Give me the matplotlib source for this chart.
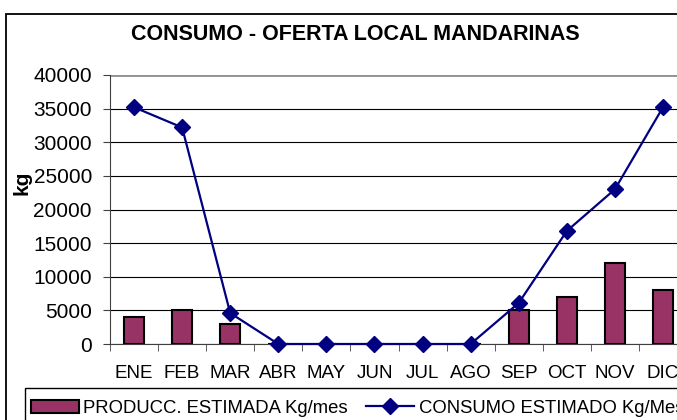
import matplotlib.pyplot as plt
from matplotlib.patches import Rectangle

MONTHS = ["ENE", "FEB", "MAR", "ABR", "MAY", "JUN", "JUL", "AGO", "SEP", "OCT", "NOV", "DIC"]
PRODUCCION = [4000, 5000, 3000, 0, 0, 0, 0, 0, 5000, 7000, 12000, 8000]
CONSUMO = [35200, 32200, 4600, 0, 0, 0, 0, 0, 6100, 16800, 23000, 35200]
Y_TICKS = [0, 5000, 10000, 15000, 20000, 25000, 30000, 35000, 40000]

BAR_COLOR = "#993366"
LINE_COLOR = "#000080"


def main():
    plt.rcParams["font.family"] = ["Liberation Sans", "DejaVu Sans"]
    W, H = 677, 420
    fig = plt.figure(figsize=(W / 100, H / 100), dpi=100)

    # chart area border (cut off on the right and bottom like the original)
    fig.patches.append(Rectangle((6 / W, -0.1), 1.2, 1 - 14 / H + 0.1,
                                 transform=fig.transFigure, fill=False,
                                 edgecolor="black", linewidth=1.3))
    # legend box, also cut off
    fig.patches.append(Rectangle((25 / W, -0.1), 1.2, 1 - 388 / H + 0.1,
                                 transform=fig.transFigure, fill=False,
                                 edgecolor="black", linewidth=1.0))

    ax = fig.add_axes([110 / W, 76 / H, 577 / W, 269 / H])
    x = list(range(len(MONTHS)))
    bars = ax.bar(x, PRODUCCION, width=0.42, color=BAR_COLOR, edgecolor="black",
                  linewidth=1.5, label="PRODUCC. ESTIMADA Kg/mes", zorder=3)
    line, = ax.plot(x, CONSUMO, color=LINE_COLOR, linewidth=1.6, marker="D",
                    markersize=8.5, label="CONSUMO ESTIMADO Kg/Mes", zorder=4,
                    clip_on=False)

    ax.set_xlim(-0.5, 11.5)
    ax.set_ylim(0, 40000)
    ax.set_yticks(Y_TICKS)
    ax.set_yticklabels([str(v) for v in Y_TICKS], fontsize=15)
    ax.set_xticks(x)
    ax.set_xticklabels(MONTHS, fontsize=13.5)
    ax.set_xticks([i - 0.5 for i in range(13)], minor=True)
    ax.tick_params(axis="x", which="major", length=0, pad=15)
    ax.tick_params(axis="x", which="minor", length=5, direction="out",
                   color="#404040")
    ax.tick_params(axis="y", length=5, direction="out", color="#404040", pad=8)
    ax.yaxis.grid(True, color="black", linewidth=0.8, zorder=0)
    ax.set_axisbelow(True)
    for side in ("top", "right"):
        ax.spines[side].set_visible(False)
    ax.spines["left"].set_color("#404040")
    ax.spines["bottom"].set_color("#404040")
    ax.axhline(40000, color="#909090", linewidth=2, zorder=1)

    ax.set_ylabel("kg", fontsize=15, fontweight="bold")
    ax.yaxis.set_label_coords((31 - 110) / 577, 0.60)

    fig.text(355 / W, 1 - 35 / H, "CONSUMO - OFERTA LOCAL MANDARINAS",
             fontsize=15.5, fontweight="bold", ha="center", va="center")

    fig.legend([bars, line],
               ["PRODUCC. ESTIMADA Kg/mes", "CONSUMO ESTIMADO Kg/Mes"],
               loc="upper left", bbox_to_anchor=(25 / W, 1 - 394 / H),
               ncol=2, fontsize=13.3, frameon=False, handlelength=2.6,
               handletextpad=0.25, columnspacing=1.0, borderpad=0.3,
               borderaxespad=0)

    fig.savefig("out.png", dpi=100)


if __name__ == "__main__":
    main()
